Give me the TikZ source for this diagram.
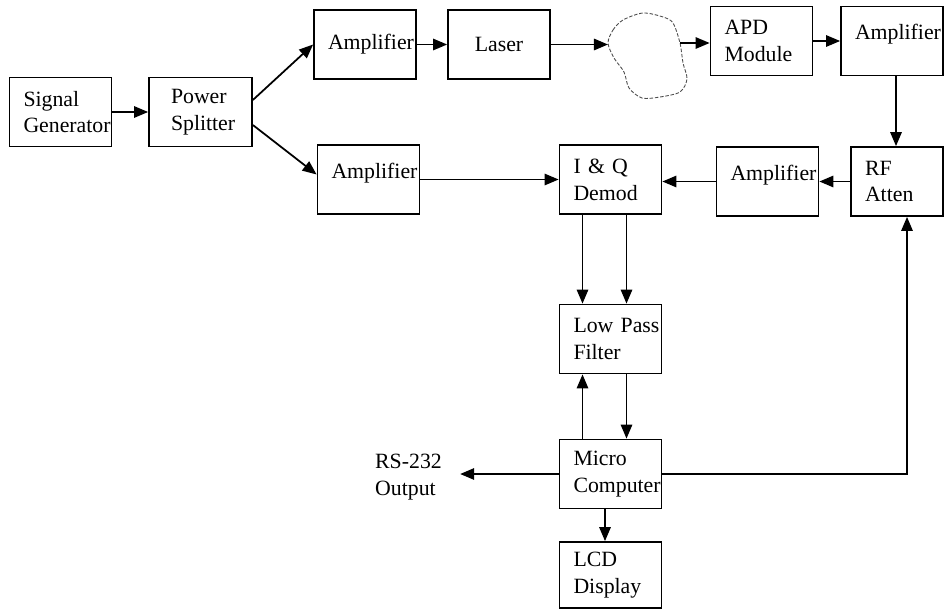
\documentclass[tikz,border=0pt]{standalone}
\usepackage{fontspec}
\setmainfont{Liberation Serif}
\usetikzlibrary{arrows.meta,calc}
\hyphenpenalty=10000
\tikzset{
    box/.style={draw, line width=1pt, minimum height=1.38cm,
                inner xsep=0.28cm, inner ysep=0pt, text width=1.48cm, align=left},
    flow/.style={-{Triangle[length=8pt, width=6.5pt]}, line width=1pt},
    fibre/.style={draw=black!70, line width=0.5pt, dash pattern=on 2pt off 1pt},
    raised/.style={text depth=0.35cm},
}
\tikzset{
    link panel/.style={font=\fontsize{12.4}{15.3}\selectfont},
}

\begin{document}
\begin{tikzpicture}[link panel]
    \path[use as bounding box] (0,0) rectangle (18.88,-12.18);

    \node[box] (siggen) at (1.21,-2.24) {Signal\\Generator};
    \node[box, inner xsep=0.44cm, text width=1.18cm] (splitter) at (4.01,-2.24) {Power\\Splitter};
    \node[box] (ampone) at (7.30,-0.89) {Amplifier};
    \node[box, align=center] (laser) at (9.98,-0.89) {Laser};
    \node[box] (apd) at (15.23,-0.82) {APD\\Module};
    \node[box, raised] (amptwo) at (17.84,-0.82) {Amplifier};
    \node[box, text width=1.28cm] (atten) at (17.94,-3.63) {RF\\Atten};
    \node[box, raised] (ampthree) at (15.35,-3.63) {Amplifier};
    \node[box] (demod) at (12.21,-3.59) {I \& Q\\Demod};
    \node[box, raised] (ampfour) at (7.37,-3.59) {Amplifier};
    \node[box] (lowpass) at (12.21,-6.78) {Low~Pass\\Filter};
    \node[box] (micro) at (12.21,-9.48) {Micro\\Computer};
    \node[box, minimum height=1.32cm] (lcd) at (12.21,-11.50) {LCD\\Display};
    \node[align=left, inner xsep=0.36cm] (rsout) at (8.17,-9.55) {RS-232\\Output};

    % optical fibre loop
    \coordinate (fibrein) at (12.16,-0.86);
    \coordinate (fibreout) at (13.60,-0.86);
    \draw[fibre] plot[smooth cycle] coordinates {
        (12.16,-0.86) (12.26,-0.60) (12.46,-0.40) (12.86,-0.26) (13.26,-0.34)
        (13.46,-0.46) (13.60,-0.86) (13.66,-1.26) (13.74,-1.58) (13.60,-1.84)
        (13.20,-1.94) (12.84,-1.96) (12.58,-1.76) (12.48,-1.44) (12.28,-1.16)};

    \draw[flow] (siggen) -- (splitter);
    \draw[flow] ([yshift=0.24cm]splitter.east) -- (ampone.west);
    \draw[flow] ([yshift=-0.26cm]splitter.east) -- ([yshift=0.1cm]ampfour.west);
    \draw[flow] (ampone) -- (laser);
    \draw[flow] (laser.east) -- (laser.east -| fibrein);
    \draw[flow] (fibreout) -- (fibreout -| apd.west);
    \draw[flow] (apd) -- (amptwo);
    \draw[flow] ([xshift=0.08cm]amptwo.south) -- ([xshift=0.08cm]amptwo.south |- atten.north);
    \draw[flow] (atten) -- (ampthree);
    \draw[flow] (ampthree.west) -- (ampthree.west -| demod.east);
    \draw[flow] (ampfour) -- (demod);
    \foreach \dx in {-0.56,0.32}
        \draw[flow] ([xshift=\dx cm]demod.south) -- ([xshift=\dx cm]lowpass.north);
    \draw[flow] ([xshift=-0.56cm]micro.north) -- ([xshift=-0.56cm]lowpass.south);
    \draw[flow] ([xshift=0.32cm]lowpass.south) -- ([xshift=0.32cm]micro.north);
    \draw[flow] ([xshift=-0.11cm]micro.south) -- ([xshift=-0.11cm]lcd.north);
    \draw[flow] (micro.west) -- (micro.west -| rsout.east);
    \draw[flow] (micro.east) -| ([xshift=0.2cm]atten.south);
\end{tikzpicture}
\end{document}
